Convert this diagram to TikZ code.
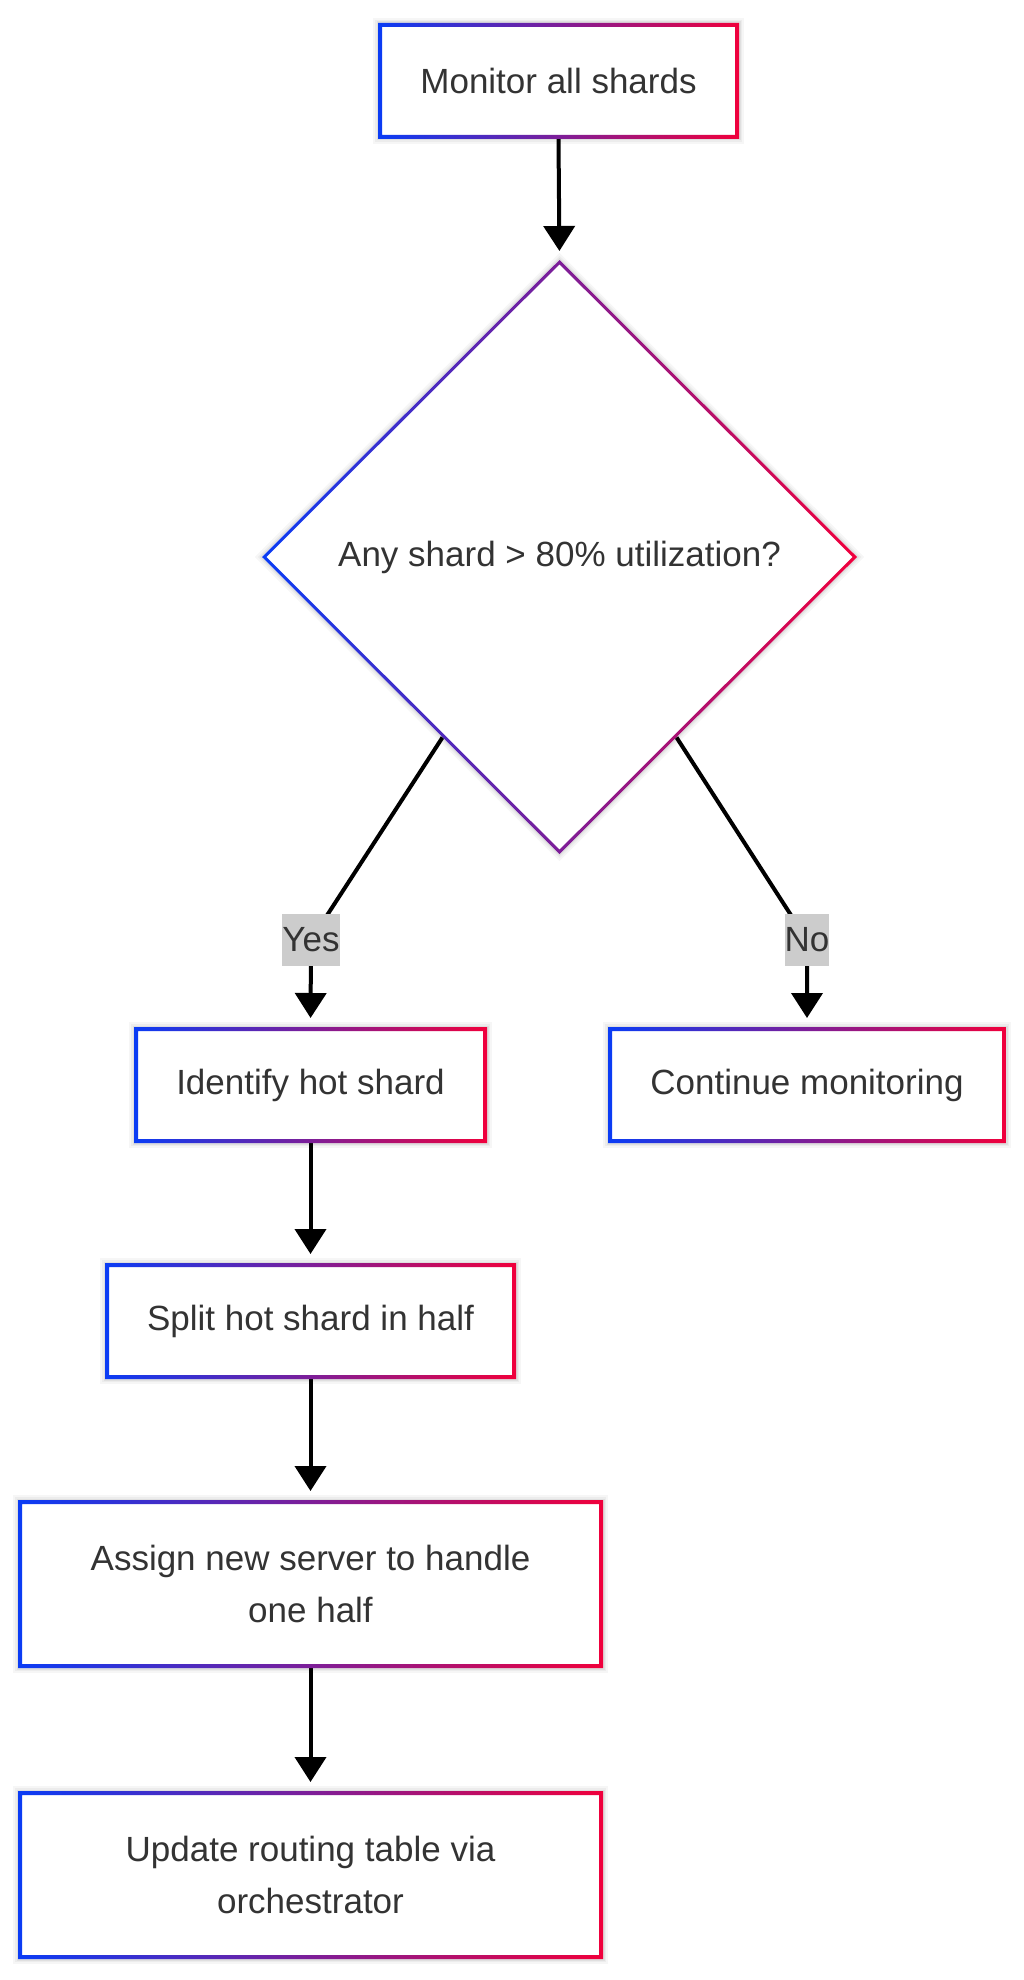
\documentclass[tikz,border=0pt]{standalone}
\usepackage{fontspec}
\setmainfont{Liberation Sans}
\usetikzlibrary{arrows.meta,shapes.geometric,calc}
\definecolor{cblue}{HTML}{0A3CF5}
\definecolor{cred}{HTML}{F0003C}
\definecolor{ctext}{HTML}{333333}
\definecolor{clab}{HTML}{CCCCCC}
\pgfdeclarelayer{bg}
\pgfsetlayers{bg,main}
\newcommand\gradrect[1]{\shade[even odd rule,left color=cblue,right color=cred]
  (#1.north west) rectangle (#1.south east)
  ([xshift=4pt,yshift=-4pt]#1.north west) rectangle ([xshift=-4pt,yshift=4pt]#1.south east);}
\begin{document}
\begin{tikzpicture}[x=1pt,y=-1pt,
  txt/.style={text=ctext, font=\fontsize{35}{52.5}\selectfont},
  shadowed/.style={
    preaction={draw=black, draw opacity=0.035, line width=10pt},
    preaction={draw=black, draw opacity=0.04, line width=6pt},
    preaction={draw=black, draw opacity=0.05, line width=3pt}},
  box/.style={txt, shadowed, rectangle, fill=white, inner sep=0pt, outer sep=0pt, align=center},
  decision/.style={txt, shadowed, diamond, fill=white, inner sep=0pt, outer sep=0pt, align=center},
  lab/.style={txt, fill=clab, inner sep=0pt, minimum height=52pt},
  edge/.style={line width=4pt, draw=black, -{Triangle[width=31pt,length=25pt]}, shorten >=9pt}
]
\begin{pgfonlayer}{bg}
\fill[white] (0,0) rectangle (1024,1980);
\end{pgfonlayer}
\useasboundingbox (0,0) rectangle (1024,1980);

% nodes
\node[box, minimum width=361pt, minimum height=116pt] (m) at (558.5,81) {Monitor all shards};
\node[decision, minimum width=595pt, minimum height=594pt] (d) at (559.5,557) {Any shard > 80\% utilization?};
\node[box, minimum width=353pt, minimum height=116pt] (i) at (310.5,1085) {Identify hot shard};
\node[box, minimum width=398pt, minimum height=116pt] (c) at (807,1085) {Continue monitoring};
\node[box, minimum width=411pt, minimum height=116pt] (s) at (310.5,1321) {Split hot shard in half};
\node[box, minimum width=585pt, minimum height=168pt] (a) at (310.5,1584) {Assign new server to handle\\one half};
\node[box, minimum width=585pt, minimum height=168pt] (u) at (310.5,1875) {Update routing table via\\orchestrator};

% gradient borders
\gradrect{m}
\gradrect{i}
\gradrect{c}
\gradrect{s}
\gradrect{a}
\gradrect{u}
\shade[even odd rule,left color=cblue,right color=cred]
  (d.north) -- (d.east) -- (d.south) -- (d.west) -- cycle
  ([yshift=-4.3pt]d.north) -- ([xshift=-4.3pt]d.east) -- ([yshift=4.3pt]d.south) -- ([xshift=4.3pt]d.west) -- cycle;

% labels
\node[lab] (yl) at (311,940) {Yes};
\node[lab] (nl) at (807,940) {No};

% edges
\begin{pgfonlayer}{bg}
\draw[edge] (m.south) -- (d.north);
\draw[edge] ($(d.west)!0.607!(d.south)$) -- (yl.center) -- (i.north);
\draw[edge] ($(d.east)!0.607!(d.south)$) -- (nl.center) -- (c.north);
\draw[edge] (i.south) -- (s.north);
\draw[edge] (s.south) -- (a.north);
\draw[edge] (a.south) -- (u.north);
\end{pgfonlayer}
\end{tikzpicture}
\end{document}
